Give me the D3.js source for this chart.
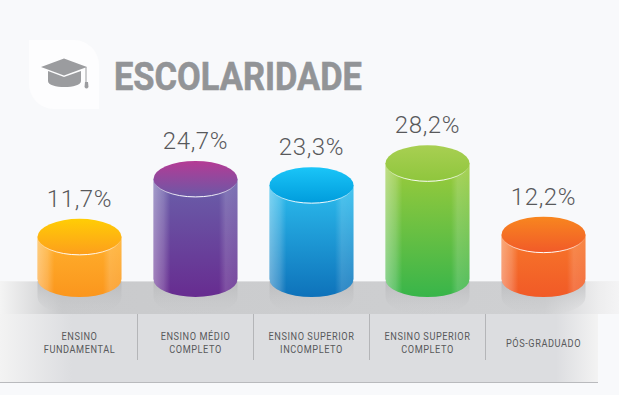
<!DOCTYPE html>
<html>
<head>
<meta charset="utf-8">
<script src="https://cdn.jsdelivr.net/npm/d3@7"></script>
<style>
html,body{margin:0;padding:0;background:#f8f9fb;overflow:hidden}
svg{display:block}
</style>
</head>
<body>
<script>
var titleText = "ESCOLARIDADE";
var categories = [["ENSINO", "FUNDAMENTAL"], ["ENSINO MÉDIO", "COMPLETO"], ["ENSINO SUPERIOR", "INCOMPLETO"], ["ENSINO SUPERIOR", "COMPLETO"], ["PÓS-GRADUADO"]];
var values = [11.7, 24.7, 23.3, 28.2, 12.2];
var topColors = [["#ffcd05", "#fd9e1c"], ["#b53b95", "#6b58a6"], ["#1ac5f8", "#009cdc"], ["#a8cf52", "#8fc63d"], ["#f8861f", "#f15a29"]];
var bodyColors = [["#ffb02c", "#fb961d"], ["#6a60aa", "#672c90"], ["#2cbdee", "#0e72ba"], ["#9ccb3b", "#38b54a"], ["#f7772a", "#f15a27"]];

var width = 619, height = 395;
var rx = 42, ry = 18;
var baseY = 279; //底部椭圆中心

var svg = d3.select("body").append("svg").attr("width", width).attr("height", height);
var defs = svg.append("defs");

// 比例尺
var x = d3.scaleBand().domain(d3.range(values.length)).range([21.5, 601.5]);
var y = d3.scaleLinear().domain([0, 30]).range([289, 155.3]);
function cx(i) { return x(i) + x.bandwidth() / 2; }

function gradient(id, vertical, stops) {
    var g = defs.append("linearGradient").attr("id", id)
        .attr("x1", 0).attr("y1", 0)
        .attr("x2", vertical ? 0 : 1).attr("y2", vertical ? 1 : 0);
    stops.forEach(function (s) {
        g.append("stop").attr("offset", s[0]).attr("stop-color", s[1]).attr("stop-opacity", s[2] === undefined ? 1 : s[2]);
    });
}

gradient("bandUpper", false, [[0, "#f4f4f4"], [0.1, "#c9cacc"], [0.88, "#cfd0d2"], [0.97, "#eeeeef"], [1, "#f4f4f5"]]);
gradient("bandEdge", false, [[0, "#f4f4f4"], [0.1, "#dddee0"], [0.88, "#dddee0"], [0.97, "#f0f0f1"], [1, "#f4f4f5"]]);
gradient("bandLower", false, [[0, "#f3f3f3"], [0.12, "#dcdde0"], [0.93, "#dcdde0"], [1, "#f3f3f3"]]);
gradient("gloss", false, [[0, "#fff", 0.38], [0.12, "#fff", 0.2], [0.2, "#fff", 0], [0.78, "#fff", 0], [0.86, "#fff", 0.16], [1, "#fff", 0.12]]);
gradient("shadow", true, [[0, "#b3b4b6", 0.7], [1, "#c8c9cb", 0]]);
gradient("rim", true, [[0, "#fff", 0], [0.6, "#fff", 0], [1, "#fff", 1]]);
values.forEach(function (d, i) {
    gradient("top" + i, true, [[0, topColors[i][0]], [1, topColors[i][1]]]);
    gradient("body" + i, true, [[0, bodyColors[i][0]], [1, bodyColors[i][1]]]);
});

// 底部色带
svg.append("rect").attr("x", 0).attr("y", 281).attr("width", width).attr("height", 33).attr("fill", "url(#bandUpper)");
svg.append("rect").attr("x", 0).attr("y", 281).attr("width", width).attr("height", 1).attr("fill", "url(#bandEdge)");
svg.append("rect").attr("x", 0).attr("y", 314).attr("width", 598).attr("height", 68).attr("fill", "url(#bandLower)");
svg.append("rect").attr("x", 0).attr("y", 382).attr("width", 598).attr("height", 1).attr("fill", "#b9babd");

// 分隔线
svg.selectAll(".divider").data(d3.range(1, values.length)).enter().append("line")
    .attr("x1", function (d) { return x(d); }).attr("x2", function (d) { return x(d); })
    .attr("y1", 314).attr("y2", 360)
    .attr("stroke", "#b4b5b8").attr("stroke-width", 1);

// 标题图标
svg.append("path").attr("d", "M29,40H74A25,25 0 0 1 99,65V109H54A25,25 0 0 1 29,84Z").attr("fill", "#fdfdfe");
svg.append("path").attr("d", "M48,71V81C48,89 81,89 81,81V71L64,77Z").attr("fill", "#9b9c9f");
svg.append("path").attr("d", "M41,67L64,58.5L87,67L64,75.5Z").attr("fill", "#9b9c9f");
svg.append("path").attr("d", "M86,67V82").attr("stroke", "#9b9c9f").attr("stroke-width", 1).attr("fill", "none");
svg.append("path").attr("d", "M85,82H88L88.5,87Q86.5,90 84.5,87Z").attr("fill", "#9b9c9f");

svg.append("text").attr("x", 114).attr("y", 90).text(titleText)
    .attr("font-family", "Roboto,sans-serif").attr("font-weight", 700).attr("font-size", 39)
    .attr("textLength", 248).attr("lengthAdjust", "spacingAndGlyphs")
    .attr("fill", "#929497").attr("stroke", "#929497").attr("stroke-width", 0.6);

// 圆柱
var bars = svg.selectAll(".bar").data(values).enter().append("g").attr("class", "bar");

bars.append("path").attr("fill", "url(#shadow)")
    .attr("d", function (d, i) {
        var c = cx(i);
        return "M" + (c - rx) + ",281V" + 297 + "A" + rx + "," + ry + " 0 0 0 " + (c + rx) + "," + 297 + "V281Z";
    });

function bodyPath(d, i) {
    var c = cx(i), t = y(d);
    return "M" + (c - rx) + "," + t + "V" + baseY + "A" + rx + "," + ry + " 0 0 0 " + (c + rx) + "," + baseY + "V" + t + "Z";
}
bars.append("path").attr("d", bodyPath).attr("fill", function (d, i) { return "url(#body" + i + ")"; });
bars.append("path").attr("d", bodyPath).attr("fill", "url(#gloss)");

bars.append("ellipse")
    .attr("cx", function (d, i) { return cx(i); }).attr("cy", function (d) { return y(d); })
    .attr("rx", rx).attr("ry", ry)
    .attr("fill", function (d, i) { return "url(#top" + i + ")"; })
    .attr("stroke", "url(#rim)").attr("stroke-width", 1);

// 数值
bars.append("text")
    .attr("x", function (d, i) { return cx(i); }).attr("y", function (d) { return y(d) - 30; })
    .attr("text-anchor", "middle")
    .attr("font-family", "Roboto,sans-serif").attr("font-weight", 300).attr("font-size", 24)
    .attr("letter-spacing", 0.6).attr("fill", "#58595b")
    .text(function (d) { return String(d).replace(".", ",") + "%"; });

// 类别标签,横向压缩
svg.selectAll(".cat").data(categories).enter().append("text").attr("class", "cat")
    .attr("transform", function (d, i) { return "translate(" + cx(i) + ",0) scale(0.8,1)"; })
    .attr("text-anchor", "middle")
    .attr("font-family", "Roboto,sans-serif").attr("font-size", 11.5)
    .attr("letter-spacing", 0.7).attr("fill", "#58595b")
    .each(function (lines) {
        var t = d3.select(this);
        lines.forEach(function (line, j) {
            t.append("tspan").attr("x", 0)
                .attr("y", lines.length == 1 ? 347 : 340 + j * 13)
                .text(line);
        });
    });
</script>
</body>
</html>
